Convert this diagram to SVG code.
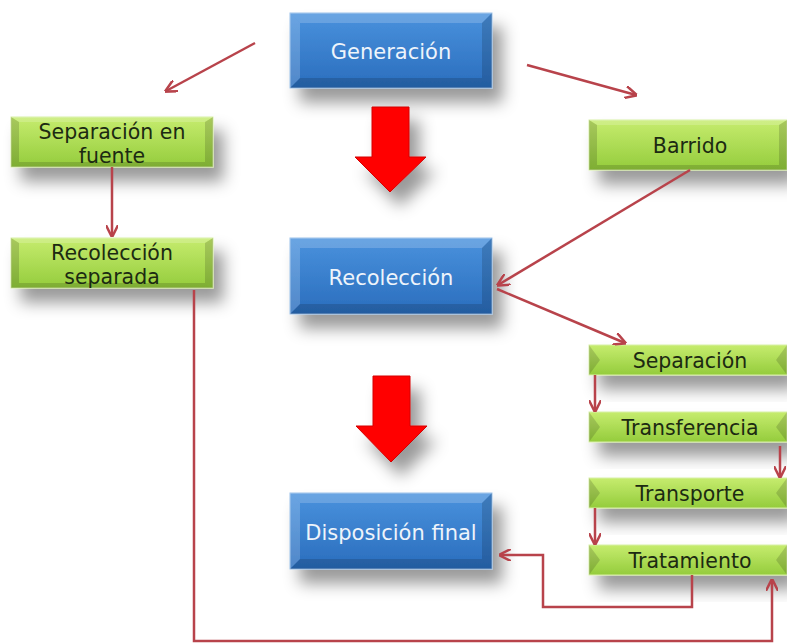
<svg xmlns="http://www.w3.org/2000/svg" width="787" height="644" viewBox="0 0 787 644">
<defs>
<linearGradient id="gb" x1="0" y1="0" x2="0" y2="1"><stop offset="0" stop-color="#4a92dd"/><stop offset="1" stop-color="#2a6dbd"/></linearGradient>
<linearGradient id="gg" x1="0" y1="0" x2="0" y2="1"><stop offset="0" stop-color="#c6ec6e"/><stop offset="1" stop-color="#94cc3c"/></linearGradient>
<filter id="sh" x="-20%" y="-30%" width="150%" height="220%"><feDropShadow dx="10" dy="14" stdDeviation="8" flood-color="#000" flood-opacity="0.4"/></filter>
<marker id="ah" viewBox="0 0 10 10" refX="9" refY="5" markerWidth="5" markerHeight="5" orient="auto-start-reverse" markerUnits="strokeWidth"><path d="M0,0 L10,5 L0,10" fill="none" stroke="#b8434b" stroke-width="2"/></marker>
</defs>
<style>
.bt{font-family:"DejaVu Sans","Noto Sans",sans-serif;font-size:21px;fill:#eef4fb;text-anchor:middle}
.gt{font-family:"DejaVu Sans","Noto Sans",sans-serif;font-size:20.5px;fill:#1c2a12;text-anchor:middle}
.c{fill:none;stroke:#b8434b;stroke-width:2.5;marker-end:url(#ah)}
.bl{fill:#ffffff;opacity:0.18}
.bd{fill:#000000;opacity:0.15}
.ra{fill:#ff0000;stroke:#d40000;stroke-width:1}
</style>
<rect width="787" height="644" fill="#ffffff"/>
<g id="n-generacion">
<rect x="290" y="13" width="202" height="75" fill="url(#gb)" stroke="#9cc2ea" stroke-width="1" filter="url(#sh)"/>
<polygon points="290,13 492,13 482,23 300,23" class="bl"/>
<polygon points="290,88 492,88 482,78 300,78" class="bd"/>
<polygon points="290,13 300,23 300,78 290,88" class="bl"/>
<polygon points="492,13 482,23 482,78 492,88" class="bd"/>
<text x="391" y="59" class="bt">Generación</text>
</g>
<g id="n-recoleccion">
<rect x="290" y="238" width="202" height="76" fill="url(#gb)" stroke="#9cc2ea" stroke-width="1" filter="url(#sh)"/>
<polygon points="290,238 492,238 482,248 300,248" class="bl"/>
<polygon points="290,314 492,314 482,304 300,304" class="bd"/>
<polygon points="290,238 300,248 300,304 290,314" class="bl"/>
<polygon points="492,238 482,248 482,304 492,314" class="bd"/>
<text x="391" y="285" class="bt">Recolección</text>
</g>
<g id="n-disposicion">
<rect x="290" y="493" width="202" height="76" fill="url(#gb)" stroke="#9cc2ea" stroke-width="1" filter="url(#sh)"/>
<polygon points="290,493 492,493 482,503 300,503" class="bl"/>
<polygon points="290,569 492,569 482,559 300,559" class="bd"/>
<polygon points="290,493 300,503 300,559 290,569" class="bl"/>
<polygon points="492,493 482,503 482,559 492,569" class="bd"/>
<text x="391" y="540" class="bt">Disposición final</text>
</g>
<g id="n-sepfuente">
<rect x="11" y="117" width="202" height="50" fill="url(#gg)" stroke="#d8efa6" stroke-width="1" filter="url(#sh)"/>
<polygon points="11,117 213,117 205,122 19,122" class="bl"/>
<polygon points="11,167 213,167 205,162 19,162" class="bd"/>
<polygon points="11,117 19,122 19,162 11,167" class="bd"/>
<polygon points="213,117 205,122 205,162 213,167" class="bd"/>
<text x="112" y="139" class="gt">Separación en</text>
<text x="112" y="163" class="gt">fuente</text>
</g>
<g id="n-recsep">
<rect x="11" y="238" width="202" height="50" fill="url(#gg)" stroke="#d8efa6" stroke-width="1" filter="url(#sh)"/>
<polygon points="11,238 213,238 205,243 19,243" class="bl"/>
<polygon points="11,288 213,288 205,283 19,283" class="bd"/>
<polygon points="11,238 19,243 19,283 11,288" class="bd"/>
<polygon points="213,238 205,243 205,283 213,288" class="bd"/>
<text x="112" y="260" class="gt">Recolección</text>
<text x="112" y="284" class="gt">separada</text>
</g>
<g id="n-barrido">
<rect x="589" y="120" width="198" height="50" fill="url(#gg)" stroke="#d8efa6" stroke-width="1" filter="url(#sh)"/>
<polygon points="589,120 787,120 779,125 597,125" class="bl"/>
<polygon points="589,170 787,170 779,165 597,165" class="bd"/>
<polygon points="589,120 597,125 597,165 589,170" class="bd"/>
<polygon points="787,120 779,125 779,165 787,170" class="bd"/>
<text x="690" y="153" class="gt">Barrido</text>
</g>
<g id="n-separacion">
<rect x="589" y="345" width="198" height="30" fill="url(#gg)" stroke="#d8efa6" stroke-width="1" filter="url(#sh)"/>
<polygon points="589,345 600,360 589,375" class="bd"/>
<polygon points="787,345 776,360 787,375" class="bd"/>
<text x="690" y="368" class="gt">Separación</text>
</g>
<g id="n-transferencia">
<rect x="589" y="412" width="198" height="30" fill="url(#gg)" stroke="#d8efa6" stroke-width="1" filter="url(#sh)"/>
<polygon points="589,412 600,427 589,442" class="bd"/>
<polygon points="787,412 776,427 787,442" class="bd"/>
<text x="690" y="435" class="gt">Transferencia</text>
</g>
<g id="n-transporte">
<rect x="589" y="478" width="198" height="30" fill="url(#gg)" stroke="#d8efa6" stroke-width="1" filter="url(#sh)"/>
<polygon points="589,478 600,493 589,508" class="bd"/>
<polygon points="787,478 776,493 787,508" class="bd"/>
<text x="690" y="501" class="gt">Transporte</text>
</g>
<g id="n-tratamiento">
<rect x="589" y="545" width="198" height="30" fill="url(#gg)" stroke="#d8efa6" stroke-width="1" filter="url(#sh)"/>
<polygon points="589,545 600,560 589,575" class="bd"/>
<polygon points="787,545 776,560 787,575" class="bd"/>
<text x="690" y="568" class="gt">Tratamiento</text>
</g>
<g id="big-arrows">
<polygon class="ra" points="372,107 409,107 409,157 426,157 390,192 355,157 372,157" filter="url(#sh)"/>
<polygon class="ra" points="373,376 410,376 410,426 427,426 391,462 356,426 373,426" filter="url(#sh)"/>
</g>
<g id="connectors">
<line class="c" x1="255" y1="43" x2="166" y2="91"/>
<line class="c" x1="527" y1="65" x2="636" y2="95"/>
<line class="c" x1="112" y1="167" x2="112" y2="236"/>
<line class="c" x1="690" y1="170" x2="498" y2="285"/>
<line class="c" x1="497" y1="289" x2="625" y2="343"/>
<line class="c" x1="595" y1="375" x2="595" y2="411"/>
<line class="c" x1="780" y1="446" x2="780" y2="477"/>
<line class="c" x1="595" y1="508" x2="595" y2="544"/>
<polyline class="c" points="692,575 692,607 543,607 543,555 500,555"/>
<polyline class="c" points="194,290 194,641 772,641 772,580"/>
</g>
</svg>
